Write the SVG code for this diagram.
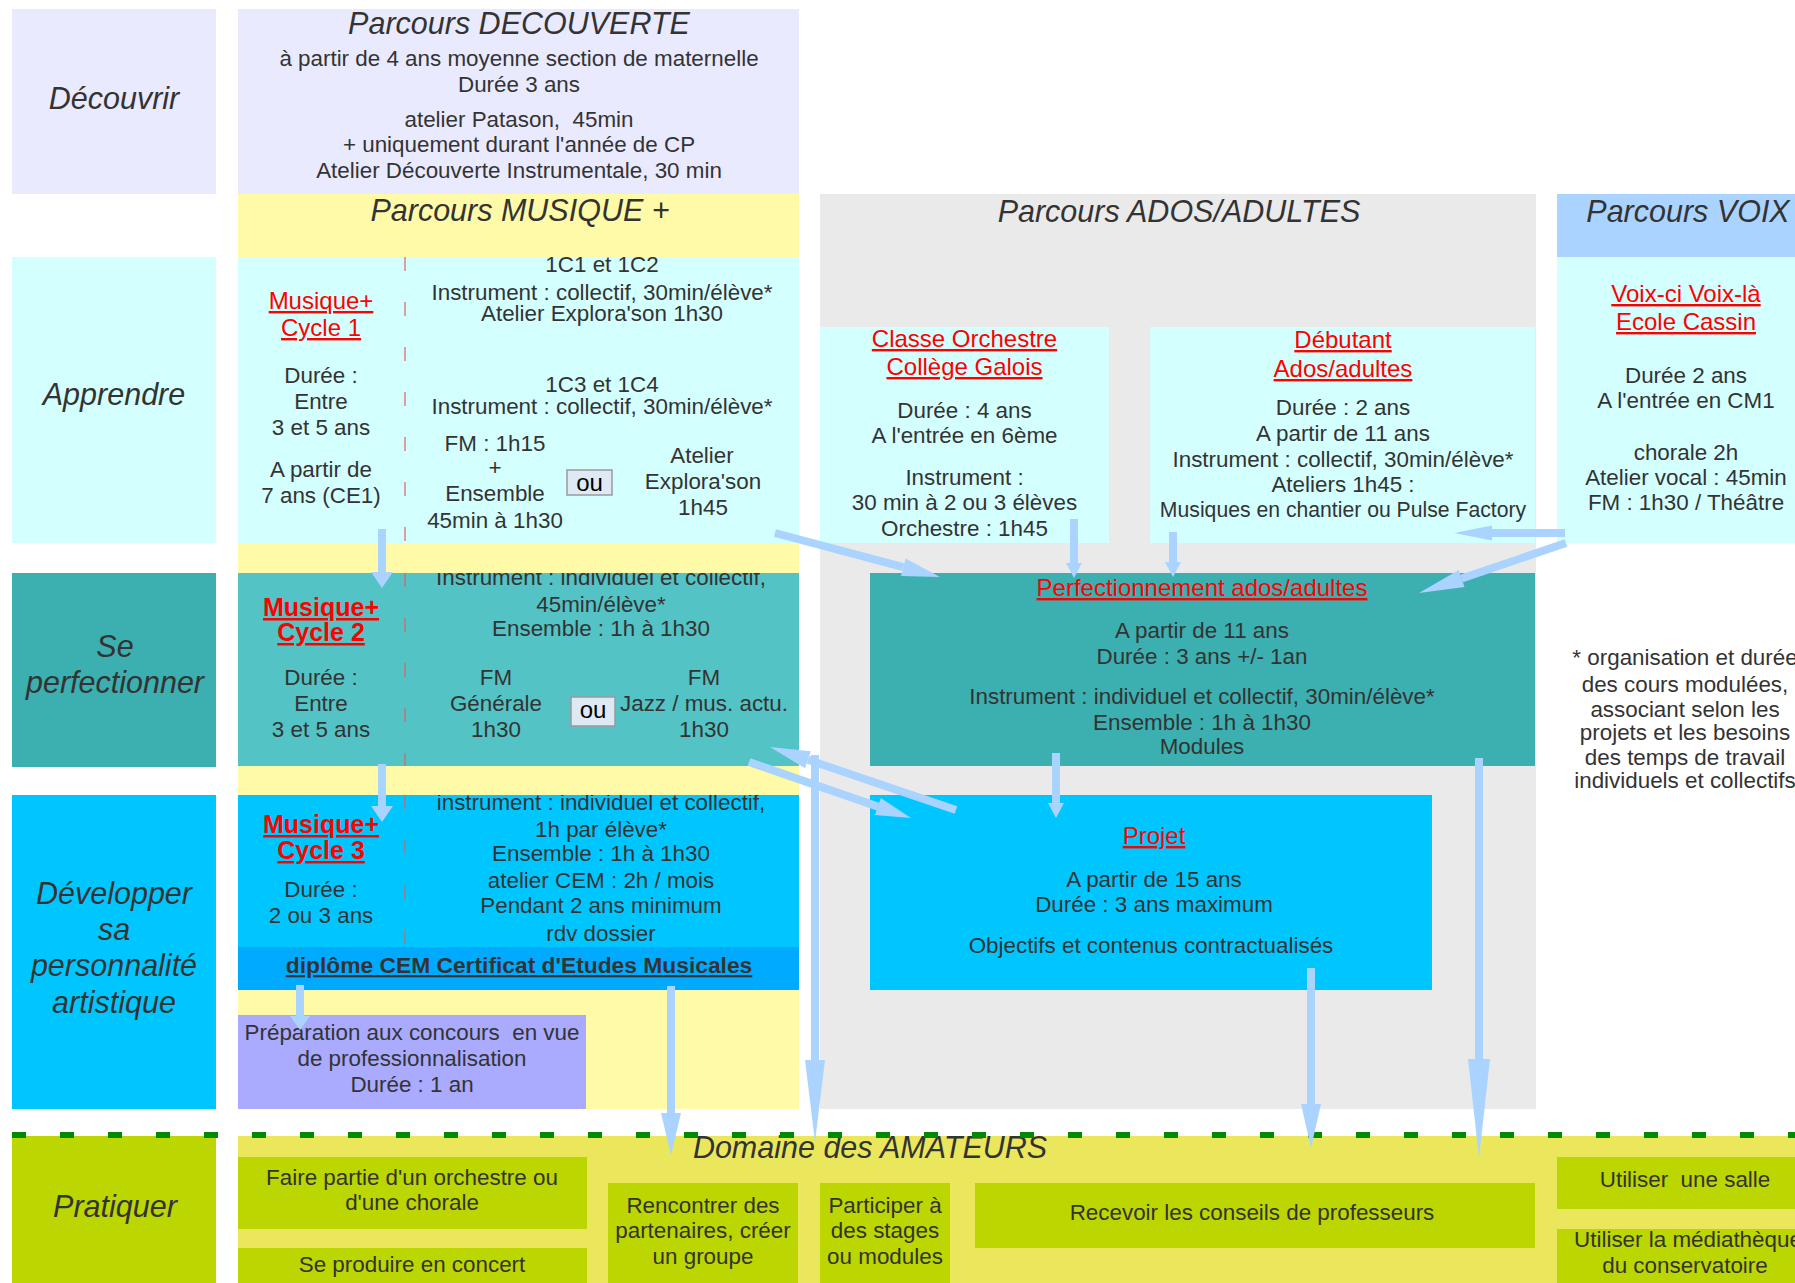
<svg xmlns="http://www.w3.org/2000/svg" width="1795" height="1283" viewBox="0 0 1795 1283">
<style>
text{font-family:"Liberation Sans",Arial,sans-serif;font-size:22.4px;fill:#333;text-anchor:middle}
.h{font-style:italic;font-size:30.5px}
.r{fill:#f00;text-decoration:underline;font-size:24px}
.rb{fill:#f00;text-decoration:underline;font-size:25px;font-weight:bold}
.ou{fill:#000;font-size:24px}
.oub{fill:#dde9f4;stroke:#9a9a9a;stroke-width:1.5}
.sh{stroke:#aad4ff;stroke-width:8;fill:none}
.hd{fill:#aad4ff}
.dl{stroke:#e06060;stroke-width:1.2;stroke-dasharray:14 31}
</style>
<defs>
<clipPath id="c2"><rect x="238" y="573" width="561" height="193"/></clipPath>
<clipPath id="c3"><rect x="238" y="795" width="561" height="152"/></clipPath>
</defs>
<rect width="1795" height="1283" fill="#fff"/>

<!-- background columns -->
<g id="backgrounds">
<rect x="238" y="194" width="561" height="915" fill="#fffaa8"/>
<rect x="820" y="194" width="716" height="915" fill="#eaeaea"/>
<rect x="238" y="1136" width="1557" height="147" fill="#ebe75c"/>
</g>

<!-- row labels -->
<g id="label-decouvrir"><rect x="12" y="9" width="204" height="185" fill="#eaeaff"/><text class="h" x="114" y="109">Découvrir</text></g>
<g id="label-apprendre"><rect x="12" y="257" width="204" height="286" fill="#d4ffff"/><text class="h" x="114" y="405">Apprendre</text></g>
<g id="label-perfectionner"><rect x="12" y="573" width="204" height="194" fill="#3cafb0"/><text class="h" x="115" y="657">Se</text><text class="h" x="115" y="693">perfectionner</text></g>
<g id="label-developper"><rect x="12" y="795" width="204" height="314" fill="#00c6ff"/><text class="h" x="114" y="904">Développer</text><text class="h" x="114" y="940">sa</text><text class="h" x="114" y="976">personnalité</text><text class="h" x="114" y="1013">artistique</text></g>
<g id="label-pratiquer"><rect x="12" y="1136" width="204" height="147" fill="#bbd600"/><text class="h" x="115" y="1217">Pratiquer</text></g>

<!-- Parcours DECOUVERTE -->
<g id="parcours-decouverte">
<rect x="238" y="9" width="561" height="185" fill="#eaeaff"/>
<text class="h" x="519" y="34">Parcours DECOUVERTE</text>
<text x="519" y="66">à partir de 4 ans moyenne section de maternelle</text>
<text x="519" y="92">Durée 3 ans</text>
<text x="519" y="127" style="white-space:pre">atelier Patason,  45min</text>
<text x="519" y="152">+ uniquement durant l'année de CP</text>
<text x="519" y="178">Atelier Découverte Instrumentale, 30 min</text>
</g>

<!-- headers -->
<g id="header-musique"><text class="h" x="520" y="221">Parcours MUSIQUE +</text></g>
<g id="header-ados"><text class="h" x="1179" y="222">Parcours ADOS/ADULTES</text></g>
<g id="header-voix"><rect x="1557" y="194" width="240" height="63" fill="#aad4ff"/><text class="h" x="1688" y="222">Parcours VOIX</text></g>

<!-- Cycle 1 -->
<g id="cycle1">
<rect x="238" y="257" width="561" height="286" fill="#d4ffff"/>
<line class="dl" x1="405" y1="257" x2="405" y2="543"/>
<text class="r" x="321" y="309">Musique+</text>
<text class="r" x="321" y="336">Cycle 1</text>
<text x="321" y="383">Durée :</text>
<text x="321" y="409">Entre</text>
<text x="321" y="435">3 et 5 ans</text>
<text x="321" y="477">A partir de</text>
<text x="321" y="503">7 ans (CE1)</text>
<text x="602" y="272">1C1 et 1C2</text>
<text x="602" y="300">Instrument : collectif, 30min/élève*</text>
<text x="602" y="321">Atelier Explora'son 1h30</text>
<text x="602" y="392">1C3 et 1C4</text>
<text x="602" y="414">Instrument : collectif, 30min/élève*</text>
<text x="495" y="451">FM : 1h15</text>
<text x="495" y="475">+</text>
<text x="495" y="501">Ensemble</text>
<text x="495" y="528">45min à 1h30</text>
<rect class="oub" x="567" y="470" width="45" height="25"/>
<text class="ou" x="589.5" y="491">ou</text>
<text x="702" y="463">Atelier</text>
<text x="703" y="489">Explora'son</text>
<text x="703" y="515">1h45</text>
</g>

<!-- Cycle 2 -->
<g id="cycle2">
<rect x="238" y="573" width="561" height="193" fill="#53c3c5"/>
<line class="dl" x1="405" y1="573" x2="405" y2="766"/>
<g clip-path="url(#c2)">
<text class="rb" x="321" y="616">Musique+</text>
<text class="rb" x="321" y="641">Cycle 2</text>
<text x="321" y="685">Durée :</text>
<text x="321" y="711">Entre</text>
<text x="321" y="737">3 et 5 ans</text>
<text x="601" y="585">Instrument : individuel et collectif,</text>
<text x="601" y="612">45min/élève*</text>
<text x="601" y="636">Ensemble : 1h à 1h30</text>
<text x="496" y="685">FM</text>
<text x="496" y="711">Générale</text>
<text x="496" y="737">1h30</text>
<text x="704" y="685">FM</text>
<text x="704" y="711">Jazz / mus. actu.</text>
<text x="704" y="737">1h30</text>
</g>
<rect class="oub" x="571" y="697" width="44" height="29"/>
<text class="ou" x="593" y="718">ou</text>
</g>

<!-- Cycle 3 -->
<g id="cycle3">
<rect x="238" y="795" width="561" height="152" fill="#00c6ff"/>
<line class="dl" x1="405" y1="795" x2="405" y2="947"/>
<g clip-path="url(#c3)">
<text class="rb" x="321" y="833">Musique+</text>
<text class="rb" x="321" y="859">Cycle 3</text>
<text x="321" y="897">Durée :</text>
<text x="321" y="923">2 ou 3 ans</text>
<text x="601" y="810">instrument : individuel et collectif,</text>
<text x="601" y="837">1h par élève*</text>
<text x="601" y="861">Ensemble : 1h à 1h30</text>
<text x="601" y="888">atelier CEM : 2h / mois</text>
<text x="601" y="913">Pendant 2 ans minimum</text>
<text x="601" y="941">rdv dossier</text>
</g>
</g>

<g id="diplome">
<rect x="238" y="947" width="561" height="43" fill="#00aaff"/>
<text x="519" y="973" style="font-weight:bold;text-decoration:underline;font-size:22.8px">diplôme CEM Certificat d'Etudes Musicales</text>
</g>

<g id="preparation">
<rect x="238" y="1015" width="348" height="94" fill="#aaaaff"/>
<text x="412" y="1040" style="white-space:pre">Préparation aux concours  en vue</text>
<text x="412" y="1066">de professionnalisation</text>
<text x="412" y="1092">Durée : 1 an</text>
</g>

<!-- ADOS -->
<g id="classe-orchestre">
<rect x="820" y="327" width="289" height="216" fill="#d4ffff"/>
<text class="r" x="964.5" y="347">Classe Orchestre</text>
<text class="r" x="964.5" y="375">Collège Galois</text>
<text x="964.5" y="418">Durée : 4 ans</text>
<text x="964.5" y="443">A l'entrée en 6ème</text>
<text x="964.5" y="485">Instrument :</text>
<text x="964.5" y="510">30 min à 2 ou 3 élèves</text>
<text x="964.5" y="536">Orchestre : 1h45</text>
</g>

<g id="debutant">
<rect x="1150" y="327" width="385" height="216" fill="#d4ffff"/>
<text class="r" x="1343" y="348">Débutant</text>
<text class="r" x="1343" y="377">Ados/adultes</text>
<text x="1343" y="415">Durée : 2 ans</text>
<text x="1343" y="441">A partir de 11 ans</text>
<text x="1343" y="467">Instrument : collectif, 30min/élève*</text>
<text x="1343" y="492">Ateliers 1h45 :</text>
<text x="1343" y="517" style="font-size:21.2px">Musiques en chantier ou Pulse Factory</text>
</g>

<g id="voix">
<rect x="1557" y="257" width="240" height="286" fill="#d4ffff"/>
<text class="r" x="1686" y="302">Voix-ci Voix-là</text>
<text class="r" x="1686" y="330">Ecole Cassin</text>
<text x="1686" y="383">Durée 2 ans</text>
<text x="1686" y="408">A l'entrée en CM1</text>
<text x="1686" y="460">chorale 2h</text>
<text x="1686" y="485">Atelier vocal : 45min</text>
<text x="1686" y="510">FM : 1h30 / Théâtre</text>
</g>

<g id="perfectionnement">
<rect x="870" y="573" width="665" height="193" fill="#3cafb0"/>
<text class="r" x="1202" y="596">Perfectionnement ados/adultes</text>
<text x="1202" y="638">A partir de 11 ans</text>
<text x="1202" y="664">Durée : 3 ans +/- 1an</text>
<text x="1202" y="704">Instrument : individuel et collectif, 30min/élève*</text>
<text x="1202" y="730">Ensemble : 1h à 1h30</text>
<text x="1202" y="754">Modules</text>
</g>

<g id="projet">
<rect x="870" y="795" width="562" height="195" fill="#00c6ff"/>
<text class="r" x="1154" y="844">Projet</text>
<text x="1154" y="887">A partir de 15 ans</text>
<text x="1154" y="912">Durée : 3 ans maximum</text>
<text x="1151" y="953">Objectifs et contenus contractualisés</text>
</g>

<g id="footnote">
<text x="1685" y="665">* organisation et durée</text>
<text x="1685" y="692">des cours modulées,</text>
<text x="1685" y="717">associant selon les</text>
<text x="1685" y="740">projets et les besoins</text>
<text x="1685" y="765">des temps de travail</text>
<text x="1685" y="788">individuels et collectifs</text>
</g>

<!-- Pratiquer -->
<g id="domaine"><text class="h" x="870" y="1158">Domaine des AMATEURS</text></g>
<g id="orchestre"><rect x="238" y="1157" width="349" height="72" fill="#bbd600"/><text x="412" y="1185">Faire partie d'un orchestre ou</text><text x="412" y="1210">d'une chorale</text></g>
<g id="concert"><rect x="238" y="1248" width="349" height="35" fill="#bbd600"/><text x="412" y="1272">Se produire en concert</text></g>
<g id="rencontrer"><rect x="608" y="1183" width="190" height="100" fill="#bbd600"/><text x="703" y="1213">Rencontrer des</text><text x="703" y="1238">partenaires, créer</text><text x="703" y="1264">un groupe</text></g>
<g id="stages"><rect x="820" y="1183" width="130" height="100" fill="#bbd600"/><text x="885" y="1213">Participer à</text><text x="885" y="1238">des stages</text><text x="885" y="1264">ou modules</text></g>
<g id="conseils"><rect x="975" y="1183" width="560" height="65" fill="#bbd600"/><text x="1252" y="1220">Recevoir les conseils de professeurs</text></g>
<g id="salle"><rect x="1557" y="1157" width="240" height="52" fill="#bbd600"/><text x="1685" y="1187" style="white-space:pre">Utiliser  une salle</text></g>
<g id="mediatheque"><rect x="1557" y="1229" width="240" height="54" fill="#bbd600"/><text x="1688" y="1247">Utiliser la médiathèque</text><text x="1685" y="1273">du conservatoire</text></g>

<line x1="12" y1="1135" x2="1795" y2="1135" stroke="#008a00" stroke-width="6" stroke-dasharray="14 34"/>

<!-- connectors -->
<g id="connectors">
<line class="sh" x1="382" y1="529" x2="382" y2="573"/><polygon class="hd" points="371,572 393,572 382,588"/>
<line class="sh" x1="382" y1="764" x2="382" y2="807"/><polygon class="hd" points="371,806 393,806 382,822"/>
<line class="sh" x1="300" y1="985" x2="300" y2="1017"/><polygon class="hd" points="290,1016 310,1016 300,1030"/>
<line class="sh" x1="671" y1="986" x2="671" y2="1114"/><polygon class="hd" points="661,1113 681,1113 671,1155"/>
<line class="sh" x1="815" y1="755" x2="815" y2="1061"/><polygon class="hd" points="805,1060 825,1060 815,1142"/>
<line class="sh" x1="1565" y1="533" x2="1491" y2="533"/><polygon class="hd" points="1492,525.5 1492,540.5 1454,533"/>
<line class="sh" x1="1566" y1="543" x2="1461.6" y2="578.5"/><polygon class="hd" points="1464.5,587 1458.7,570 1419,593"/>
<line class="sh" x1="1074" y1="519" x2="1074" y2="564"/><polygon class="hd" points="1066,563 1082,563 1074,578"/>
<line class="sh" x1="1173" y1="532" x2="1173" y2="563"/><polygon class="hd" points="1165,562 1181,562 1173,577"/>
<line class="sh" x1="775" y1="533" x2="903.3" y2="567.2"/><polygon class="hd" points="901,575.9 905.6,558.5 940,577"/>
<line class="sh" x1="1056" y1="753" x2="1056" y2="804"/><polygon class="hd" points="1048,803 1064,803 1056,818"/>
<line class="sh" x1="1479" y1="758" x2="1479" y2="1060"/><polygon class="hd" points="1468,1059 1490,1059 1479,1158"/>
<line class="sh" x1="1311" y1="968" x2="1311" y2="1105"/><polygon class="hd" points="1301,1104 1321,1104 1311,1148"/>
<line class="sh" x1="749" y1="762" x2="877.9" y2="806.6"/><polygon class="hd" points="875,815.1 880.8,798.1 911,818"/>
<line class="sh" x1="956" y1="810" x2="807.9" y2="759.8"/><polygon class="hd" points="810.8,751.3 805,768.3 770,747"/>
</g>
</svg>
